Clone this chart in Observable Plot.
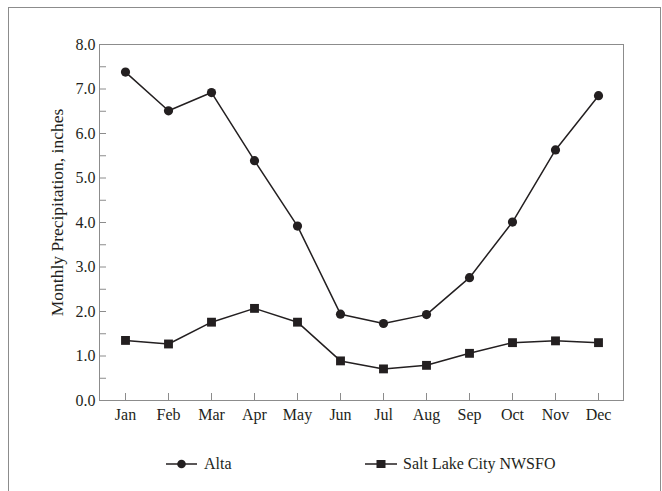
<!DOCTYPE html>
<html>
<head>
<meta charset="utf-8">
<script src="https://cdn.jsdelivr.net/npm/d3@7"></script>
<script src="https://cdn.jsdelivr.net/npm/@observablehq/plot@0.6"></script>
<style>
  body { margin: 0; background: #fff; }
  #wrap { position: relative; width: 662px; height: 491px; overflow: hidden;
          font-family: "Liberation Serif", serif; color: #231f20; }
  #border { position: absolute; left: 8px; top: 7px; width: 651px; height: 520px;
            border: 1px solid #8c8c8c; border-bottom: none; }
  #chart { position: absolute; left: 0; top: 0; }
  #legend { position: absolute; top: 453px; left: 0; width: 662px; height: 22px;
            font-family: "Liberation Serif", serif; font-size: 16px; color: #231f20; }
  .item { position: absolute; top: 0; height: 22px; display: flex; align-items: center; white-space: nowrap; }
  .item svg { display: block; }
</style>
</head>
<body>
<div id="wrap">
  <div id="border"></div>
  <div id="chart"></div>
  <div id="legend"></div>
</div>
<script>
// Monthly precipitation normals (inches)
const months = ["Jan", "Feb", "Mar", "Apr", "May", "Jun", "Jul", "Aug", "Sep", "Oct", "Nov", "Dec"];
const alta = [7.38, 6.51, 6.92, 5.39, 3.92, 1.94, 1.73, 1.93, 2.76, 4.01, 5.63, 6.85];
const saltLake = [1.35, 1.27, 1.76, 2.07, 1.76, 0.89, 0.71, 0.79, 1.06, 1.30, 1.34, 1.30];
const seriesNames = ["Alta", "Salt Lake City NWSFO"];
const yTitle = "Monthly Precipitation, inches";
const yTicks = [0, 1, 2, 3, 4, 5, 6, 7, 8];
const yMinorTicks = [0.5, 1.5, 2.5, 3.5, 4.5, 5.5, 6.5, 7.5];

const ink = "#231f20";
const gray = "#8c8c8c";
const serif = "Liberation Serif, serif";

const W = 662, H = 430;
const mL = 99, mR = 39, mT = 44, mB = 30;
const innerW = W - mL - mR, innerH = H - mT - mB;

const altaRows = months.map((m, i) => ({month: m, value: alta[i]}));
const slcRows = months.map((m, i) => ({month: m, value: saltLake[i]}));

const chart = Plot.plot({
  width: W,
  height: H,
  marginLeft: mL,
  marginRight: mR,
  marginTop: mT,
  marginBottom: mB,
  style: {fontFamily: serif, fontSize: "16px", color: ink, background: "transparent"},
  x: {type: "point", domain: months, padding: 0.5},
  y: {domain: [0, 8]},
  marks: [
    Plot.frame({stroke: gray}),
    // inward tick marks on the left and bottom edges
    Plot.ruleY([...yTicks, ...yMinorTicks], {stroke: gray, insetRight: innerW - 7}),
    Plot.ruleX(months, {stroke: gray, insetTop: innerH - 7}),
    Plot.axisY({ticks: yTicks, tickSize: 0, tickPadding: 4, tickFormat: d3.format(".1f"),
                label: null, fontSize: 16, fill: ink}),
    Plot.axisX({tickSize: 0, tickPadding: 8, label: null, fontSize: 16, fill: ink}),
    // rotated y-axis title
    Plot.text([yTitle], {frameAnchor: "left", textAnchor: "middle", rotate: -90, dx: -42, dy: -10,
                         fontSize: 17.5, fill: ink, text: d => d}),
    Plot.line(altaRows, {x: "month", y: "value", stroke: ink, strokeWidth: 1.5}),
    Plot.line(slcRows, {x: "month", y: "value", stroke: ink, strokeWidth: 1.5}),
    Plot.dot(altaRows, {x: "month", y: "value", symbol: "circle", r: 4.6, fill: ink, stroke: "none"}),
    Plot.dot(slcRows, {x: "month", y: "value", symbol: "square", r: 5, fill: ink, stroke: "none"})
  ]
});
document.getElementById("chart").appendChild(chart);

// legend below the plot
const legend = d3.select("#legend");
const items = [
  {name: seriesNames[0], left: 166, w: 31, gap: 7, symbol: "circle"},
  {name: seriesNames[1], left: 365, w: 32, gap: 6, symbol: "square"}
];
items.forEach(it => {
  const div = legend.append("div").attr("class", "item").style("left", it.left + "px");
  const svg = div.append("svg").attr("width", it.w).attr("height", 12).style("margin-right", it.gap + "px");
  svg.append("line").attr("x1", 0).attr("x2", it.w).attr("y1", 6).attr("y2", 6)
    .attr("stroke", ink).attr("stroke-width", 1.5);
  if (it.symbol === "circle") {
    svg.append("circle").attr("cx", it.w / 2).attr("cy", 6).attr("r", 4.3).attr("fill", ink);
  } else {
    svg.append("rect").attr("x", it.w / 2 - 4.5).attr("y", 2).attr("width", 9).attr("height", 8).attr("fill", ink);
  }
  div.append("span").text(it.name);
});
</script>
</body>
</html>
